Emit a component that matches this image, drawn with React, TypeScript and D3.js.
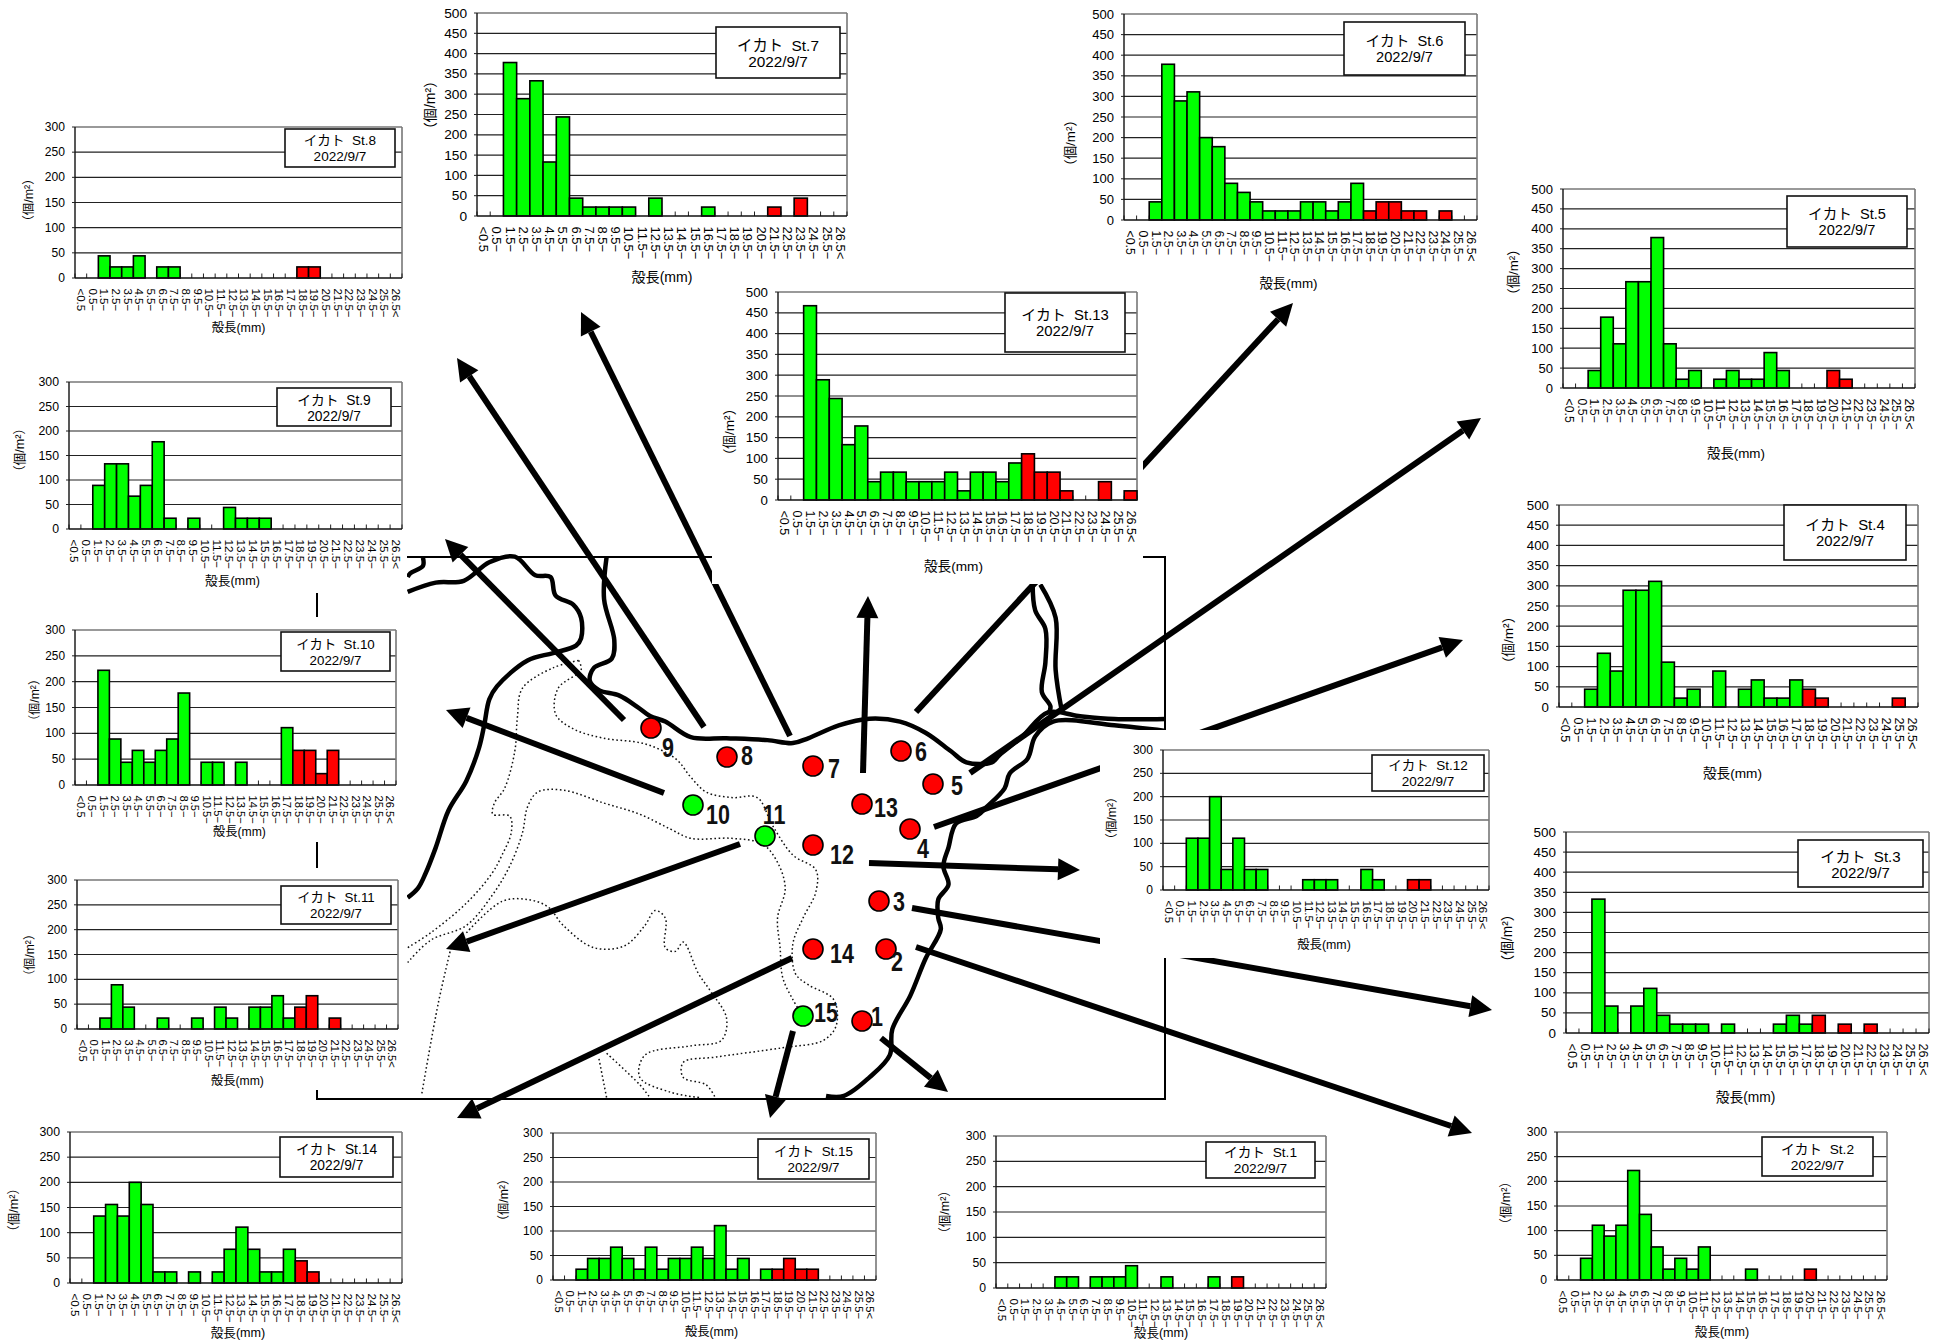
import React from "react";
import * as d3 from "d3";

const sizeClasses = ["<0.5","0.5−","1.5−","2.5−","3.5−","4.5−","5.5−","6.5−","7.5−","8.5−","9.5−","10.5−","11.5−","12.5−","13.5−","14.5−","15.5−","16.5−","17.5−","18.5−","19.5−","20.5−","21.5−","22.5−","23.5−","24.5−","25.5−","26.5<"];
const firstAdultClass = "18.5−";

const st1  = [0,0,0,0,0,22,22,0,22,22,22,44,0,0,22,0,0,0,22,0,22,0,0,0,0,0,0,0];
const st2  = [0,0,44,111,89,111,222,133,67,22,44,22,67,0,0,0,22,0,0,0,0,22,0,0,0,0,0,0];
const st3  = [0,0,333,67,0,67,111,44,22,22,22,0,22,0,0,0,22,44,22,44,0,22,0,22,0,0,0,0];
const st4  = [0,0,44,133,89,289,289,311,111,22,44,0,89,0,44,67,22,22,67,44,22,0,0,0,0,0,22,0];
const st5  = [0,0,44,178,111,267,267,378,111,22,44,0,22,44,22,22,89,44,0,0,0,44,22,0,0,0,0,0];
const st6  = [0,0,44,378,289,311,200,178,89,67,44,22,22,22,44,44,22,44,89,22,44,44,22,22,0,22,0,0];
const st7  = [0,0,378,289,333,133,244,44,22,22,22,22,0,44,0,0,0,22,0,0,0,0,22,0,44,0,0,0];
const st8  = [0,0,44,22,22,44,0,22,22,0,0,0,0,0,0,0,0,0,0,22,22,0,0,0,0,0,0,0];
const st9  = [0,0,89,133,133,67,89,178,22,0,22,0,0,44,22,22,22,0,0,0,0,0,0,0,0,0,0,0];
const st10 = [0,0,222,89,44,67,44,67,89,178,0,44,44,0,44,0,0,0,111,67,67,22,67,0,0,0,0,0];
const st11 = [0,0,22,89,44,0,0,22,0,0,22,0,44,22,0,44,44,67,22,44,67,0,22,0,0,0,0,0];
const st12 = [0,0,111,111,200,44,111,44,44,0,0,0,22,22,22,0,0,44,22,0,0,22,22,0,0,0,0,0];
const st13 = [0,0,467,289,244,133,178,44,67,67,44,44,44,67,22,67,67,44,89,111,67,67,22,0,0,44,0,22];
const st14 = [0,0,133,156,133,200,156,22,22,0,22,0,22,67,111,67,22,22,67,44,22,0,0,0,0,0,0,0];
const st15 = [0,0,22,44,44,67,44,22,67,22,44,44,67,44,111,22,44,0,22,22,44,22,22,0,0,0,0,0];

const surveyDate = "2022/9/7";
const xTitle = "殻長(mm)";
const yTitle = "（個/m²）";
const FONT = '"Liberation Sans","Noto Sans CJK JP",sans-serif';

type P = { name:string; v:number[]; l:number; r:number; t:number; b:number; max:number; box:number[]; td:number; tx?:number; yx:number; yy:number };
const panels:P[] = [
  {name:"St.8", v:st8, l:75,r:402,t:127,b:278,max:300,box:[285,395,129,167],td:50,yx:29,yy:200},
  {name:"St.7", v:st7, l:477,r:847,t:13,b:216,max:500,box:[716,840,27,78],td:61,yx:430,yy:105},
  {name:"St.6", v:st6, l:1124,r:1477,t:14,b:220,max:500,box:[1344,1465,22,75],td:63,tx:-12,yx:1070,yy:143},
  {name:"St.5", v:st5, l:1563,r:1915,t:189,b:388,max:500,box:[1787,1907,196,247],td:65,tx:-3,yx:1513,yy:272},
  {name:"St.4", v:st4, l:1559,r:1918,t:505,b:707,max:500,box:[1784,1906,505,560],td:66,tx:-6,yx:1508,yy:640},
  {name:"St.3", v:st3, l:1566,r:1929,t:832,b:1033,max:500,box:[1798,1923,840,887],td:64,tx:-2,yx:1507,yy:938},
  {name:"St.2", v:st2, l:1557,r:1887,t:1132,b:1280,max:300,box:[1762,1873,1137,1176],td:52,yx:1506,yy:1203},
  {name:"St.1", v:st1, l:996,r:1326,t:1136,b:1288,max:300,box:[1206,1315,1142,1178],td:45,yx:945,yy:1212},
  {name:"St.15",v:st15,l:553,r:876,t:1133,b:1280,max:300,box:[758,869,1139,1179],td:52,tx:-3,yx:504,yy:1200},
  {name:"St.14",v:st14,l:70,r:402,t:1132,b:1283,max:300,box:[280,393,1137,1177],td:50,tx:2,yx:14,yy:1210},
  {name:"St.11",v:st11,l:77,r:398,t:880,b:1029,max:300,box:[281,391,886,924],td:52,yx:30,yy:955},
  {name:"St.10",v:st10,l:75,r:396,t:630,b:785,max:300,box:[281,390,632,671],td:47,tx:4,yx:35,yy:700},
  {name:"St.9", v:st9, l:69,r:402,t:382,b:529,max:300,box:[277,391,388,426],td:52,tx:-3,yx:20,yy:450},
  {name:"St.12",v:st12,l:1163,r:1489,t:750,b:890,max:300,box:[1372,1484,755,791],td:55,tx:-2,yx:1112,yy:818},
  {name:"St.13",v:st13,l:778,r:1137,t:292,b:500,max:500,box:[1005,1125,293,352],td:66,tx:-4,yx:729,yy:432},
];

// White backgrounds of the pasted charts, which cut the map and arrows beneath them
const masks = [[0,375,407,218],[0,617,407,225],[0,868,407,222],[712,285,431,299],[1100,730,400,228]];

// Map outlines, in the reference's crop coordinates
const mx = d3.scaleLinear().domain([0,1568]).range([400,1200]);
const my = d3.scaleLinear().domain([0,1565]).range([540,1120]);
const coast:number[][][] = [
  [[15,965],[35,940],[50,900],[70,830],[95,730],[130,650],[155,560],[165,500],[175,430],[190,395],[250,325],[300,305],[345,285],[355,265],[355,210],[340,175],[305,150],[295,100],[265,95],[225,45],[175,60],[125,110],[70,115],[15,140]],
  [[45,48],[45,70],[20,90],[15,100]],
  [[405,45],[400,160],[420,270],[415,320],[380,345],[372,380],[390,405],[430,420],[465,450],[490,475],[520,490],[570,532],[640,535],[720,540],[770,548],[800,535],[860,500],[920,482],[980,490],[1030,520],[1080,570],[1110,600],[1160,600],[1175,580],[1220,530],[1270,465],[1330,475],[1400,483],[1500,483]],
  [[1500,515],[1400,500],[1280,490],[1245,530],[1230,590],[1195,630],[1185,670],[1150,720],[1130,745],[1090,765],[1075,830],[1065,880],[1075,930],[1055,970],[1055,1020],[1060,1050],[1030,1130],[1000,1230],[965,1320],[960,1390],[920,1450],[870,1500],[835,1500]],
  [[1240,120],[1245,190],[1265,240],[1265,330],[1258,410],[1275,450],[1270,470]],
  [[1255,120],[1285,210],[1285,350],[1297,460]],
];
const isobaths:number[][][] = [
  [[350,325],[300,345],[240,400],[230,480],[225,570],[205,670],[185,710],[182,740],[215,745],[218,790],[200,850],[180,900],[130,980],[60,1060],[15,1100]],
  [[15,1140],[60,1080],[130,1040],[180,960],[215,880],[240,790],[250,720],[270,680],[320,675],[400,710],[470,740],[530,780],[570,805],[650,805],[710,820],[740,870],[755,940],[740,1020],[745,1100],[750,1180],[770,1240],[790,1285]],
  [[350,325],[355,350],[310,400],[305,470],[340,510],[400,535],[480,550],[540,590],[570,640],[600,680],[650,695],[700,695],[730,770],[770,850],[815,890],[815,950],[790,1020],[770,1090],[775,1170],[800,1200],[850,1240],[855,1310],[830,1350],[750,1370],[620,1395],[555,1410],[555,1450],[600,1470],[618,1505]],
  [[100,1100],[75,1250],[42,1500]],
  [[130,1060],[200,975],[250,970],[290,990],[320,1040],[380,1100],[440,1095],[480,1040],[500,1000],[520,1020],[520,1100],[540,1110],[555,1085],[585,1170],[610,1220],[640,1290],[630,1350],[570,1365],[480,1390],[470,1450],[530,1490],[590,1505]],
  [[405,1385],[470,1470],[490,1505]],
  [[390,1400],[405,1505]],
];

// Arrows: station side → chart side
const arrows = [
  [881,1038,948,1092],[916,947,1472,1133],[912,908,1492,1010],[934,827,1463,640],[970,773,1481,418],
  [916,712,1293,303],[863,773,868,596],[790,736,581,312],[704,727,457,358],[624,720,445,539],
  [664,793,446,710],[740,844,446,949],[869,863,1080,870],[792,958,457,1118],[793,1031,770,1118],
];

const stationNames = ["1","2","3","4","5","6","7","8","9","10","11","12","13","14","15"];
const stationX = [862,886,879,910,933,901,813,727,651,693,765,813,862,813,803];
const stationY = [1021,949,901,829,784,751,766,757,728,805,836,845,804,949,1016];
const stationColour = ["#f00","#f00","#f00","#f00","#f00","#f00","#f00","#f00","#f00","#0f0","#0f0","#f00","#f00","#f00","#0f0"];
const labelX = [877,897,899,923,957,921,834,747,668,718,774,842,886,842,826];
const labelY = [1016,961,901,848,785,751,768,755,747,814,814,854,807,953,1012];

const line = d3.line<number[]>().x(d=>mx(d[0])).y(d=>my(d[1])).curve(d3.curveCatmullRom.alpha(0.5));

function Arrow({a}:{a:number[]}){
  const [x0,y0,x1,y1]=a;
  const ang=Math.atan2(y1-y0,x1-x0), len=22, w=11;
  const bx=x1-len*Math.cos(ang), by=y1-len*Math.sin(ang);
  const nx=-Math.sin(ang), ny=Math.cos(ang);
  return <g>
    <line x1={x0} y1={y0} x2={bx} y2={by} stroke="#000" strokeWidth={6}/>
    <polygon points={`${x1},${y1} ${bx+nx*w},${by+ny*w} ${bx-nx*w},${by-ny*w}`} fill="#000"/>
  </g>;
}

function Panel({p}:{p:P}){
  const W=p.r-p.l;
  const x=d3.scaleBand<string>().domain(sizeClasses).range([p.l,p.r]);
  const y=d3.scaleLinear().domain([0,p.max]).range([p.b,p.t]);
  const ticks=d3.range(0,p.max+1,50);
  const bw=x.bandwidth();
  const xf=bw*0.98, yf=W*0.037, lf=W*0.0415, tf=W*0.038;
  const redFrom=sizeClasses.indexOf(firstAdultClass);
  const [bx0,bx1,by0,by1]=p.box;
  const mid=(by0+by1)/2;
  return <g fontFamily={FONT} fill="#000">
    {ticks.filter(t=>t>0).map(t=>
      <line key={t} x1={p.l} x2={p.r} y1={y(t)} y2={y(t)} stroke={t===p.max?"#777":"#222"} strokeWidth={t===p.max?1.6:1.2}/>)}
    <line x1={p.r} x2={p.r} y1={p.t} y2={p.b} stroke="#777" strokeWidth={1.6}/>
    {sizeClasses.map((c,i)=>
      <line key={c} x1={x(c)!} x2={x(c)!} y1={p.b} y2={p.b-4.5} stroke="#222" strokeWidth={1}/>)}
    <line x1={p.r} x2={p.r} y1={p.b} y2={p.b-4.5} stroke="#222"/>
    {p.v.map((v,i)=> v>0 &&
      <rect key={i} x={x(sizeClasses[i])!} y={y(v)} width={bw} height={p.b-y(v)}
        fill={i>=redFrom?"#ff0000":"#00ff00"} stroke="#000" strokeWidth={1.6}/>)}
    <line x1={p.l} x2={p.l} y1={p.t} y2={p.b} stroke="#111" strokeWidth={1.4}/>
    <line x1={p.l} x2={p.r} y1={p.b} y2={p.b} stroke="#111" strokeWidth={1.6}/>
    {ticks.map(t=><g key={t}>
      <line x1={p.l-3} x2={p.l} y1={y(t)} y2={y(t)} stroke="#222"/>
      <text x={p.l-10} y={y(t)} textAnchor="end" dominantBaseline="central" fontSize={yf}>{t}</text>
    </g>)}
    {sizeClasses.map(c=>
      <text key={c} transform={`translate(${x(c)!+bw/2},${p.b+10.5}) rotate(90)`} dominantBaseline="central" fontSize={xf}>{c}</text>)}
    <text x={(p.l+p.r)/2+(p.tx??0)} y={p.b+p.td} textAnchor="middle" dominantBaseline="central" fontSize={tf}>{xTitle}</text>
    <text transform={`translate(${p.yx},${p.yy}) rotate(-90)`} textAnchor="middle" dominantBaseline="central" fontSize={tf}>{yTitle}</text>
    <rect x={bx0} y={by0} width={bx1-bx0} height={by1-by0} fill="#fff" stroke="#111" strokeWidth={1.6}/>
    <text x={(bx0+bx1)/2} y={mid-7.5} textAnchor="middle" dominantBaseline="central" fontSize={lf} style={{whiteSpace:"pre"}}>{`イカト  ${p.name}`}</text>
    <text x={(bx0+bx1)/2} y={mid+8.5} textAnchor="middle" dominantBaseline="central" fontSize={lf}>{surveyDate}</text>
  </g>;
}

export default function App(){
  return <svg width={1937} height={1343} viewBox="0 0 1937 1343" style={{position:"absolute",left:0,top:0,background:"#fff"}}>
    {/* map frame */}
    <path d="M317,557H1165V1099H317V557" fill="none" stroke="#000" strokeWidth={2}/>
    {isobaths.map((d,i)=><path key={i} d={line(d)!} fill="none" stroke="#111" strokeWidth={1.5} strokeDasharray="1.6 2.6"/>)}
    {coast.map((d,i)=><path key={i} d={line(d)!} fill="none" stroke="#000" strokeWidth={4.5}/>)}
    {arrows.map((a,i)=><Arrow key={i} a={a}/>)}
    {masks.map((m,i)=><rect key={i} x={m[0]} y={m[1]} width={m[2]} height={m[3]} fill="#fff"/>)}
    {stationNames.map((s,i)=><g key={s}>
      <circle cx={stationX[i]} cy={stationY[i]} r={10} fill={stationColour[i]} stroke="#000" strokeWidth={1.6}/>
      <text transform={`translate(${labelX[i]},${labelY[i]}) scale(0.86,1.12)`} textAnchor="middle" dominantBaseline="central" fontFamily={FONT} fontWeight="bold" fontSize={25} fill="#111">{s}</text>
    </g>)}
    {panels.map(p=><Panel key={p.name} p={p}/>)}
  </svg>;
}
